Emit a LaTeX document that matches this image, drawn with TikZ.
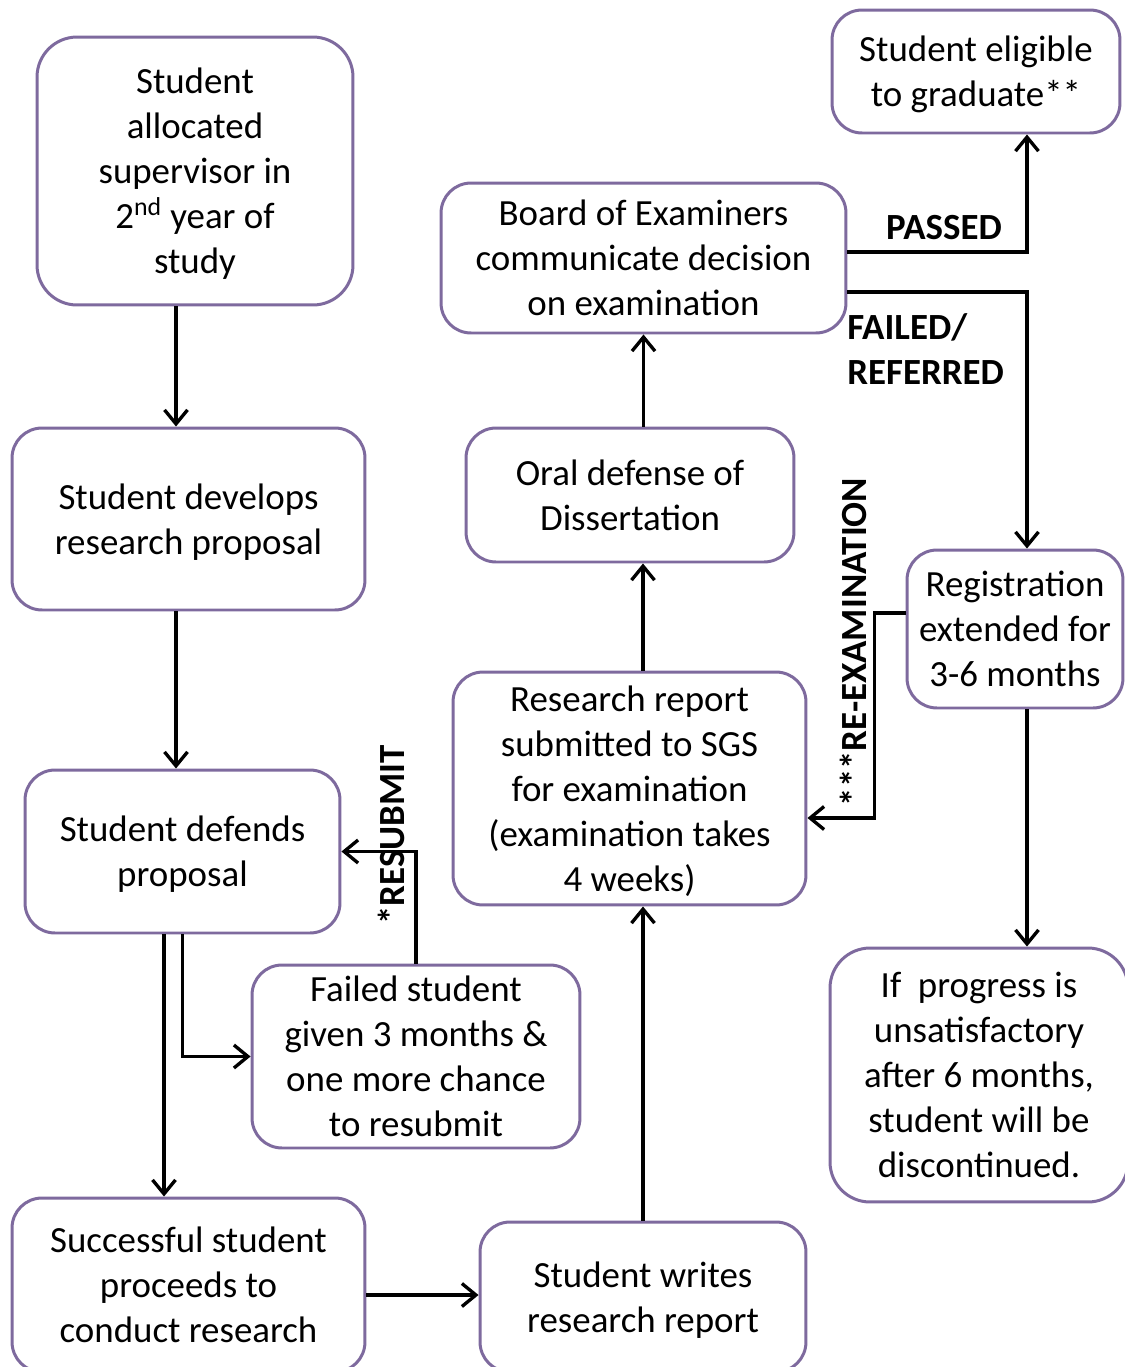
\documentclass[tikz,border=0pt]{standalone}
\usepackage{fontspec}
\setmainfont{Carlito}
\usetikzlibrary{arrows.meta}
\definecolor{boxpurple}{RGB}{126,106,158}
\tikzset{
  stage/.style={draw=boxpurple,line width=1.7pt,rounded corners=0.6cm,fill=white,
    align=center,inner sep=0pt,text depth=0pt,font=\fontsize{21}{25.6}\selectfont},
  flow/.style={line width=1.9pt,-{Straight Barb[length=0.28cm,width=0.46cm,line width=1.9pt]}},
  tag/.style={font=\fontsize{21}{25.6}\selectfont\bfseries,inner sep=0pt}
}

\begin{document}
\begin{tikzpicture}[x=0.02cm,y=-0.02cm]
\useasboundingbox (0,0) rectangle (1125,1367);
\clip (0,0) rectangle (1125,1367);
\node[stage,rounded corners=0.8cm,minimum width=6.32cm,minimum height=5.36cm] (alloc) at (195,171) {Student\\allocated\\supervisor in\\2\textsuperscript{nd} year of\\study};
\node[stage,minimum width=7.06cm,minimum height=3.64cm] (develops) at (188.5,519) {Student develops\\research proposal};
\node[stage,minimum width=6.30cm,minimum height=3.26cm] (defends) at (182.5,851.5) {Student defends\\proposal};
\node[stage,minimum width=6.56cm,minimum height=3.66cm] (failed) at (416,1056.5) {Failed student\\given 3 months \&\\one more chance\\to resubmit};
\node[stage,minimum width=7.06cm,minimum height=3.48cm] (successful) at (188.5,1285) {Successful student\\proceeds to\\conduct research};
\node[stage,minimum width=6.52cm,minimum height=3.00cm] (writes) at (643,1297) {Student writes\\research report};
\node[stage,minimum width=7.06cm,minimum height=4.66cm] (report) at (629.5,788.5) {Research report\\submitted to SGS\\for examination\\(examination takes\\4 weeks)};
\node[stage,minimum width=6.56cm,minimum height=2.68cm] (oral) at (630,495) {Oral defense of\\Dissertation};
\node[stage,minimum width=8.10cm,minimum height=3.00cm] (board) at (643.5,258) {Board of Examiners\\communicate decision\\on examination};
\node[stage,minimum width=5.76cm,minimum height=2.46cm] (eligible) at (976,71.5) {Student eligible\\to graduate**};
\node[stage,minimum width=4.32cm,minimum height=3.16cm] (registration) at (1015,629) {Registration\\extended for\\3-6 months};
\node[stage,rounded corners=0.8cm,minimum width=5.96cm,minimum height=5.08cm] (ifprogress) at (979,1075) {If~ progress is\\unsatisfactory\\after 6 months,\\student will be\\discontinued.};

\draw[flow] ([xshift=-0.38cm]alloc.south) coordinate (p1) -- (p1 |- develops.north);
\draw[flow] ([xshift=-0.25cm]develops.south) coordinate (p2) -- (p2 |- defends.north);
\draw[flow] ([xshift=-0.37cm]defends.south) coordinate (p3) -- (p3 |- successful.north);
\draw[flow] (defends.south) |- (failed.west);
\draw[flow] (failed.north) |- (defends.east);
\draw[flow] ([yshift=-0.2cm]successful.east) coordinate (p4) -- (p4 -| writes.west);
\draw[flow] (writes.north) -- (writes.north |- report.south);
\draw[flow] ([xshift=0.27cm]report.north) coordinate (p5) -- (p5 |- oral.south);
\draw[flow] (board.south |- oral.north) -- (board.south);
\draw[flow] ([yshift=0.12cm]board.east) -| ([xshift=1.02cm]eligible.south);
\draw[flow] ([yshift=-0.68cm]board.east) -| ([xshift=0.24cm]registration.north);
\draw[flow] ([yshift=0.32cm]registration.west) -- ++(-0.62cm,0) |- ([yshift=-0.59cm]report.east);
\draw[flow] ([xshift=0.24cm]registration.south) coordinate (p6) -- (p6 |- ifprogress.north);

\node[tag] (passed) at (944,228) {PASSED};
\node[tag,align=left,anchor=west] (referred) at (847,349) {FAILED/\\REFERRED};
\node[tag,rotate=90] (resubmit) at (391,835) {*RESUBMIT};
\node[tag,rotate=90] (reexam) at (853,642) {***RE-EXAMINATION};
\end{tikzpicture}
\end{document}
